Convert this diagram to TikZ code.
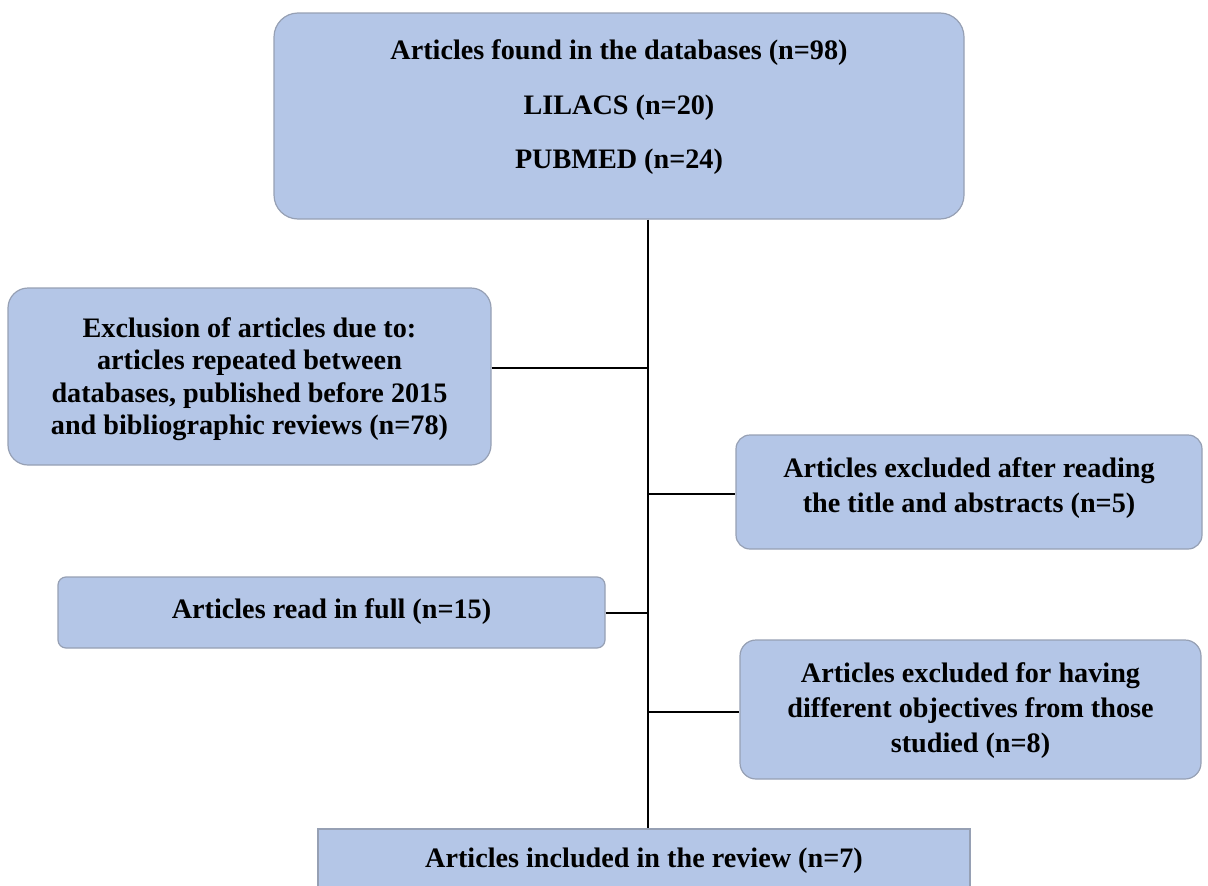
\documentclass[tikz,border=0pt]{standalone}
\usepackage{fontspec}
\setmainfont{Liberation Serif}
\definecolor{boxblue}{RGB}{180,198,231}
\definecolor{boxedge}{RGB}{150,160,180}
\tikzset{
  box/.style={draw=boxedge, fill=boxblue, line width=1.2pt, inner sep=0pt},
  txt/.style={font=\bfseries\fontsize{28.2}{34}\selectfont, align=center, inner sep=0pt},
  conn/.style={line width=1.5pt, black}
}
\begin{document}
\begin{tikzpicture}[x=1pt,y=-1pt]
\useasboundingbox (0,0) rectangle (1208,886);
% boxes
\node[box, rounded corners=24pt, minimum width=690pt, minimum height=206pt] (top) at (619,116) {};
\node[box, rounded corners=20pt, minimum width=483pt, minimum height=177pt] (excl) at (249.5,376.5) {};
\node[box, rounded corners=14pt, minimum width=466pt, minimum height=114pt] (title) at (969,492) {};
\node[box, rounded corners=8pt, minimum width=547pt, minimum height=71pt] (full) at (331.5,612.5) {};
\node[box, rounded corners=16pt, minimum width=461pt, minimum height=139pt] (obj) at (970.5,709.5) {};
\node[box, minimum width=652pt, minimum height=90pt] (incl) at (644,874) {};
% texts
\node[txt, font=\bfseries\fontsize{28.2}{54.5}\selectfont] (ttop) at (619,107.5) {Articles found in the databases (n=98)\\LILACS (n=20)\\PUBMED (n=24)};
\node[txt, font=\bfseries\fontsize{28.2}{32.5}\selectfont] (texcl) at (249.5,379) {Exclusion of articles due to:\\articles repeated between\\databases, published before 2015\\and bibliographic reviews (n=78)};
\node[txt, font=\bfseries\fontsize{28.2}{35}\selectfont] (ttitle) at (969,488.5) {Articles excluded after reading\\the title and abstracts (n=5)};
\node[txt] (tfull) at (331.5,612) {Articles read in full (n=15)};
\node[txt, font=\bfseries\fontsize{28.2}{35}\selectfont] (tobj) at (970.5,711) {Articles excluded for having\\different objectives from those\\studied (n=8)};
\node[txt] (tincl) at (644,861) {Articles included in the review (n=7)};
% connectors
\coordinate (j1) at (648,368);
\coordinate (j2) at (648,494);
\coordinate (j3) at (648,613);
\coordinate (j4) at (648,712);
\draw[conn] (top.south -| j1) -- (incl.north -| j1);
\draw[conn] (excl.east |- j1) -- (j1);
\draw[conn] (j2) -- (title.west |- j2);
\draw[conn] (full.east |- j3) -- (j3);
\draw[conn] (j4) -- (obj.west |- j4);
\end{tikzpicture}
\end{document}
